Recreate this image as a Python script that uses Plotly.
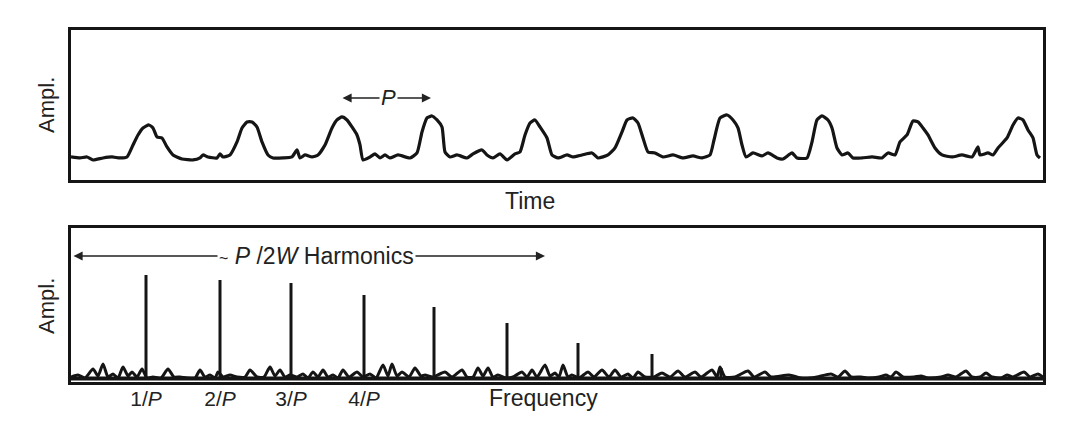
import plotly.graph_objects as go

# ---------------- data ----------------
# Time-domain pulse train: time (arb. units) and amplitude (arb. units)
time_t = [0, 9, 16, 22, 32, 41, 49, 56, 62, 67, 72, 78, 82, 86, 91, 96, 102, 111, 122, 129,
          132, 137, 146, 149, 152, 159, 166, 171, 176, 181, 186, 191, 197, 202, 212, 221, 226,
          229, 234, 241, 247, 254, 261, 266, 271, 276, 281, 286, 289, 292, 299, 304, 309, 314,
          319, 327, 339, 346, 351, 356, 361, 366, 371, 374, 379, 386, 396, 402, 411, 416, 422,
          429, 436, 444, 449, 454, 459, 464, 469, 476, 481, 487, 496, 502, 511, 521, 527, 537,
          544, 551, 556, 562, 567, 572, 577, 584, 592, 602, 612, 622, 631, 639, 643, 649, 656,
          662, 667, 671, 675, 682, 691, 697, 706, 712, 721, 726, 736, 741, 746, 751, 757, 761,
          766, 771, 777, 782, 791, 801, 811, 817, 824, 829, 836, 842, 847, 852, 857, 864, 871,
          881, 891, 901, 907, 909, 917, 922, 927, 936, 942, 947, 952, 957, 962, 966, 969]
time_amp = [23, 22, 23, 20, 22, 23, 22, 23, 35, 45, 52, 55, 52, 43, 42, 33, 25, 21, 20, 22,
            25, 23, 22, 26, 23, 25, 38, 52, 58, 58, 53, 38, 25, 22, 22, 23, 30,
            22, 25, 23, 25, 35, 52, 60, 63, 60, 53, 45, 35, 20, 23, 26, 22, 25,
            22, 25, 22, 27, 48, 62, 64, 60, 53, 28, 23, 25, 22, 26, 30, 25, 22,
            26, 20, 26, 28, 45, 57, 60, 53, 42, 25, 22, 25, 23, 25, 27, 22, 25,
            32, 48, 60, 62, 57, 42, 28, 27, 23, 25, 22, 24, 22, 25, 40, 62, 65,
            60, 52, 35, 23, 27, 24, 27, 22, 21, 27, 22, 22, 38, 60, 64, 60, 52,
            32, 25, 27, 22, 22, 23, 22, 27, 25, 38, 45, 59, 58, 52, 45, 32, 25,
            23, 25, 23, 33, 25, 27, 25, 32, 42, 55, 62, 60, 50, 42, 25, 22]

# Frequency-domain: noise floor and harmonic lines
noise_f = [0, 7, 14, 22, 27, 32, 37, 42, 47, 52, 57, 61, 66, 71, 76, 82, 90, 97, 103, 109,
           116, 124, 129, 134, 139, 144, 147, 152, 159, 166, 174, 179, 186, 193, 199, 204, 209,
           214, 219, 226, 232, 237, 242, 247, 252, 257, 262, 267, 272, 278, 286, 292, 299, 305,
           312, 317, 321, 326, 331, 338, 344, 350, 354, 362, 374, 381, 391, 396, 402, 407, 412,
           417, 422, 427, 435, 442, 451, 456, 461, 466, 474, 479, 484, 488, 492, 497, 501, 508,
           517, 523, 531, 538, 544, 550, 557, 562, 567, 574, 583, 591, 599, 607, 614, 624, 630,
           641, 646, 649, 654, 664, 677, 683, 694, 700, 718, 730, 739, 746, 760, 767, 774, 780,
           790, 798, 808, 815, 820, 825, 832, 843, 850, 857, 870, 877, 885, 895, 901, 909, 915,
           921, 930, 936, 942, 953, 959, 967, 972]
noise_amp = [5, 7, 4, 13, 6, 18, 5, 8, 4, 15, 6, 10, 5, 13, 4, 5, 4, 13, 5, 5,
             4, 4, 12, 5, 7, 4, 10, 5, 7, 5, 5, 12, 5, 5, 15, 6, 12,
             5, 7, 5, 8, 4, 10, 5, 12, 5, 7, 4, 12, 5, 10, 5, 8, 4,
             17, 6, 18, 6, 10, 5, 14, 6, 7, 5, 10, 5, 12, 5, 5, 14, 6,
             14, 5, 7, 4, 5, 10, 5, 12, 5, 17, 6, 9, 5, 17, 5, 7, 4,
             10, 5, 12, 5, 12, 5, 8, 4, 10, 5, 5, 9, 5, 11, 5, 10, 5,
             12, 5, 15, 5, 5, 11, 5, 10, 5, 7, 4, 4, 5, 8, 5, 11, 5,
             5, 4, 5, 7, 5, 10, 5, 5, 6, 4, 5, 7, 5, 11, 5, 5, 9,
             5, 4, 7, 5, 10, 5, 8, 5]

harm_f = [75, 149, 220, 293, 363, 436, 507, 581, 650]
harm_amp = [107, 102, 99, 87, 75, 59, 39, 28, 14]
harm_labels = ["1/<i>P</i>", "2/<i>P</i>", "3/<i>P</i>", "4/<i>P</i>"]
harm_base = 4

# ---------------- figure ----------------
INK = "#151515"
FONT = "Liberation Sans, Arial, Helvetica, sans-serif"

fig = go.Figure()

fig.add_trace(go.Scatter(x=time_t, y=time_amp, mode="lines",
                         line=dict(color=INK, width=3.2, shape="spline", smoothing=0.5),
                         xaxis="x", yaxis="y", hoverinfo="skip", showlegend=False))

fig.add_trace(go.Scatter(x=noise_f, y=noise_amp, mode="lines",
                         line=dict(color=INK, width=3, shape="spline", smoothing=0.6),
                         xaxis="x2", yaxis="y2", hoverinfo="skip", showlegend=False))
fig.add_trace(go.Scatter(x=[noise_f[0], noise_f[-1]], y=[3.5, 3.5], mode="lines",
                         line=dict(color=INK, width=4), xaxis="x2", yaxis="y2",
                         hoverinfo="skip", showlegend=False))

spike_x, spike_y = [], []
for f, a in zip(harm_f, harm_amp):
    spike_x += [f, f, None]
    spike_y += [harm_base, a, None]
fig.add_trace(go.Scatter(x=spike_x, y=spike_y, mode="lines",
                         line=dict(color=INK, width=3), xaxis="x2", yaxis="y2",
                         hoverinfo="skip", showlegend=False))

axis_common = dict(showline=True, mirror=True, linecolor=INK, linewidth=2.5,
                   showgrid=False, zeroline=False, ticks="", fixedrange=True)

# the page body adds an 8px offset, so the figure is sized to fit inside the window
fig.update_layout(
    width=1072, height=417,
    margin=dict(l=63, r=37, t=22, b=43),
    paper_bgcolor="white", plot_bgcolor="white",
    font=dict(family=FONT, size=21, color="#222"),
    xaxis=dict(domain=[0, 1], range=[0, 972], anchor="y", showticklabels=False, **axis_common),
    yaxis=dict(domain=[0.574, 1], range=[0, 150], anchor="x", showticklabels=False, **axis_common),
    xaxis2=dict(domain=[0, 1], range=[0, 972], anchor="y2",
                tickvals=harm_f[:4], ticktext=harm_labels, ticklabelstandoff=-4,
                tickfont=dict(family=FONT, size=21, color="#222"), **axis_common),
    yaxis2=dict(domain=[0, 0.4375], range=[0, 154], anchor="x2", showticklabels=False, **axis_common),
)

ann = []
# axis labels
ann.append(dict(text="Ampl.", xref="paper", yref="paper", x=-0.0247, y=0.787,
                textangle=-90, showarrow=False, xanchor="center", yanchor="middle",
                font=dict(size=22)))
ann.append(dict(text="Ampl.", xref="paper", yref="paper", x=-0.0247, y=0.216,
                textangle=-90, showarrow=False, xanchor="center", yanchor="middle",
                font=dict(size=22)))
ann.append(dict(text="Time", xref="paper", yref="paper", x=0.472, y=0.514,
                showarrow=False, xanchor="center", yanchor="middle", font=dict(size=23)))
ann.append(dict(text="Frequency", xref="paper", yref="paper", x=0.486, y=-0.045,
                showarrow=False, xanchor="center", yanchor="middle", font=dict(size=23)))

# period arrow (top panel)
ann.append(dict(text="", x=360, y=82, ax=270, ay=82, xref="x", yref="y",
                axref="x", ayref="y", showarrow=True, arrowside="end+start",
                arrowhead=2, arrowsize=1.3, arrowwidth=1.4, arrowcolor="#222"))
ann.append(dict(text="<i>P</i>", x=317, y=82, xref="x", yref="y", showarrow=False,
                bgcolor="white", borderpad=1, xanchor="center", yanchor="middle",
                font=dict(size=22)))

# harmonics arrow (bottom panel)
ann.append(dict(text="", x=474, y=126, ax=1, ay=126, xref="x2", yref="y2",
                axref="x2", ayref="y2", showarrow=True, arrowside="end+start",
                arrowhead=2, arrowsize=1.3, arrowwidth=1.4, arrowcolor="#222"))
ann.append(dict(text="<span style='font-size:16px'>~</span> <i>P</i> /2<i>W</i> Harmonics",
                x=245, y=126, xref="x2", yref="y2", showarrow=False,
                bgcolor="white", borderpad=1, xanchor="center", yanchor="middle",
                font=dict(size=23)))

fig.update_layout(annotations=ann)

fig.write_html("out.html")
